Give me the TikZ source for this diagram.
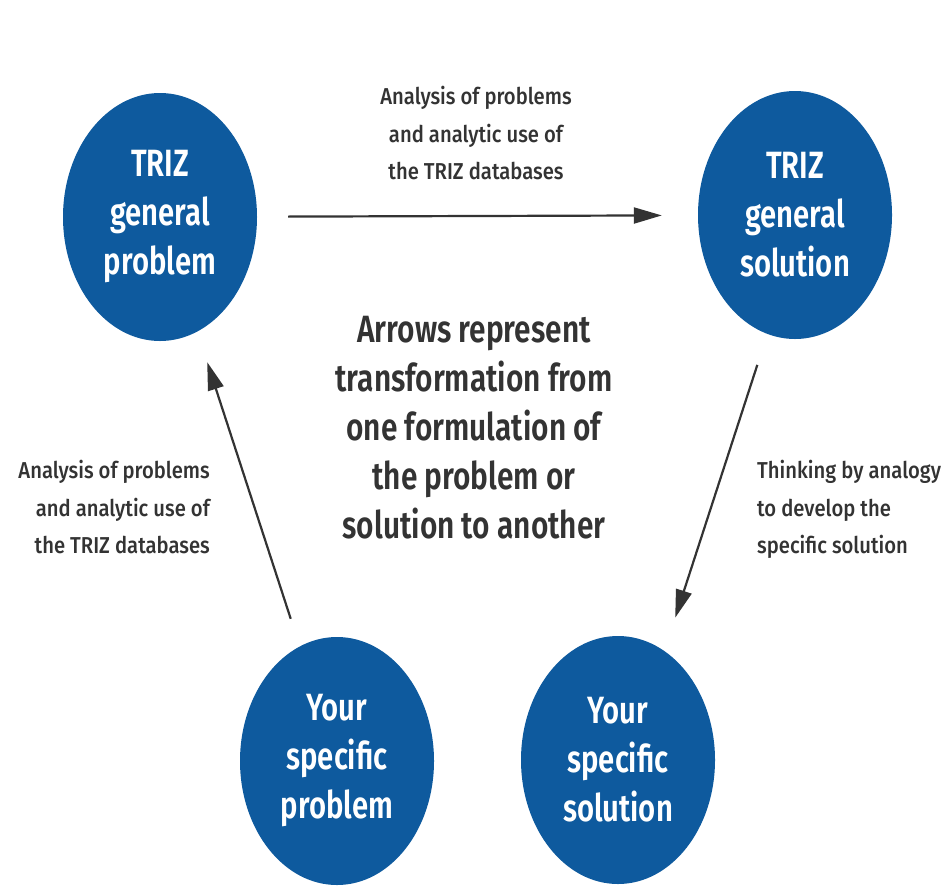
\documentclass[tikz,border=0pt]{standalone}
\usepackage{fontspec}
\usetikzlibrary{shapes.geometric,arrows.meta}
\newfontfamily\circfont[FakeStretch=0.77]{Fira Sans SemiBold}
\newfontfamily\midfont[FakeStretch=0.785]{Fira Sans SemiBold}
\newfontfamily\lblfont[FakeStretch=0.88]{Fira Sans Medium}
\definecolor{trizblue}{HTML}{0E5A9E}
\definecolor{ink}{HTML}{333333}
\tikzset{
  bubble/.style={ellipse, fill=trizblue, minimum width=194pt, minimum height=248pt,
    inner sep=0pt, text=white, align=center, font=\circfont\fontsize{38}{49}\selectfont},
  lbl/.style={inner sep=0pt, text=ink, font=\lblfont\fontsize{23}{37.5}\selectfont},
  arr/.style={draw=ink, line width=2.2pt, -{Triangle[length=28pt,width=16pt]}}
}
\begin{document}
\begin{tikzpicture}[x=1pt,y=-1pt]
\useasboundingbox[fill=white] (0,0) rectangle (949,892);
\node[bubble] (tl) at (160,217) {TRIZ\\general\\problem};
\node[bubble] (tr) at (795,215) {TRIZ\\general\\solution};
\node[bubble] (bl) at (337,761) {Your\\specific\\problem};
\node[bubble] (br) at (618,760) {Your\\specific\\solution};
\node[lbl, anchor=north, align=center] (toplbl) at (476,86) {Analysis of problems\\and analytic use of\\the TRIZ databases};
\node[lbl, anchor=north east, align=right] (leftlbl) at (210,460) {Analysis of problems\\and analytic use of\\the TRIZ databases};
\node[lbl, anchor=north west, align=left] (rightlbl) at (757,460) {Thinking by analogy\\to develop the\\specific solution};
\node[inner sep=0pt, text=ink, align=center, anchor=north, font=\midfont\fontsize{38}{49}\selectfont] (mid) at (474,316)
  {Arrows represent\\transformation from\\one formulation of\\the problem or\\solution to another};
\draw[arr, shorten <=31pt, shorten >=36pt] (tl) -- (tr);
\draw[arr, shorten <=29pt, shorten >=32pt] (bl) -- (tl);
\draw[arr, shorten <=37pt, shorten >=29pt, transform canvas={xshift=11pt}] (tr) -- (br);
\end{tikzpicture}
\end{document}
